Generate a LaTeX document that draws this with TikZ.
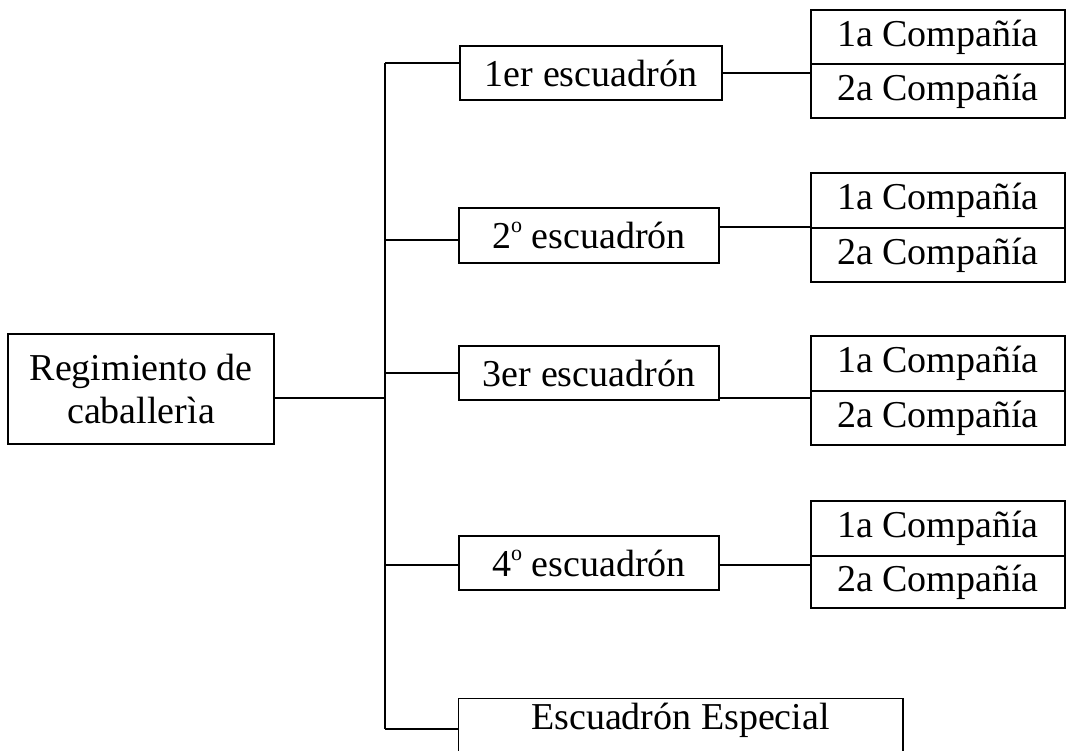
\documentclass[tikz,border=0pt]{standalone}
\usepackage{fontspec}
\setmainfont{Liberation Serif}
\newcommand{\ordo}{\raisebox{0.42em}{\fontsize{22}{22}\selectfont o}}
\begin{document}
\begin{tikzpicture}[x=1pt,y=-1pt,
  bx/.style={draw, line width=1.5pt, inner sep=0pt, font=\fontsize{38}{43}\selectfont, align=center},
  ln/.style={line width=1.5pt}]
\useasboundingbox (0,0) rectangle (1066,751);
% main
\node[bx, minimum width=266pt, minimum height=110pt] (reg) at (141,389) {Regimiento de\\caballerìa};
% squadrons
\node[bx, minimum width=262pt, minimum height=54pt] (e1) at (591,73) {1er escuadrón};
\node[bx, minimum width=260pt, minimum height=55pt] (e2) at (589,235.5) {2\ordo{} escuadrón};
\node[bx, minimum width=260pt, minimum height=54pt] (e3) at (589,373) {3er escuadrón};
\node[bx, minimum width=260pt, minimum height=54pt] (e4) at (589,563) {4\ordo{} escuadrón};
\node[bx, draw=none, minimum width=443pt, minimum height=42pt] (esp) at (680.5,720) {Escuadrón Especial};
\draw[ln] ([yshift=-40pt]esp.south west) -- (esp.north west) -- (esp.north east) -- ([yshift=-40pt]esp.south east);
% companies
\node[bx, minimum width=254pt, minimum height=54pt] (c1a) at (938,37) {1a Compañía};
\node[bx, minimum width=254pt, minimum height=54pt] (c1b) at (938,91) {2a Compañía};
\node[bx, minimum width=254pt, minimum height=55pt] (c2a) at (938,200.5) {1a Compañía};
\node[bx, minimum width=254pt, minimum height=54pt] (c2b) at (938,255) {2a Compañía};
\node[bx, minimum width=254pt, minimum height=55pt] (c3a) at (938,363.5) {1a Compañía};
\node[bx, minimum width=254pt, minimum height=54pt] (c3b) at (938,418) {2a Compañía};
\node[bx, minimum width=254pt, minimum height=55pt] (c4a) at (938,528.5) {1a Compañía};
\node[bx, minimum width=254pt, minimum height=52pt] (c4b) at (938,582) {2a Compañía};
% trunk
\coordinate (t1) at (385,63);
\coordinate (t2) at (385,240);
\coordinate (t3) at (385,373);
\coordinate (tR) at (385,398);
\coordinate (t4) at (385,565);
\coordinate (t5) at (385,729);
\draw[ln] (t1) -- (t5);
\draw[ln] ([yshift=-9pt]reg.east) -- (tR);
\draw[ln] (t1) -- (t1 -| e1.west);
\draw[ln] (t2) -- (t2 -| e2.west);
\draw[ln] (t3) -- (t3 -| e3.west);
\draw[ln] (t4) -- (t4 -| e4.west);
\draw[ln] (t5) -- (t5 -| esp.west);
% squadron to companies
\draw[ln] (e1.east) -- (e1.east -| c1a.west);
\draw[ln] ([yshift=8.5pt]e2.east) -- ([yshift=8.5pt]e2.east -| c2a.west);
\draw[ln] ([yshift=-25pt]e3.east) -- ([yshift=-25pt]e3.east -| c3a.west);
\draw[ln] ([yshift=-2pt]e4.east) -- ([yshift=-2pt]e4.east -| c4a.west);
\end{tikzpicture}
\end{document}
